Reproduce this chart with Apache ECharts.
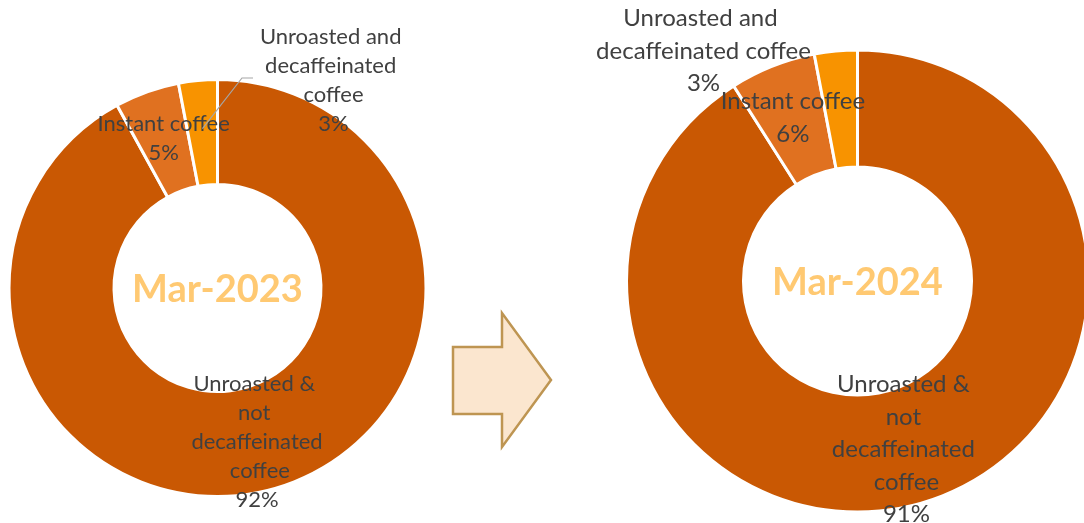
<!DOCTYPE html>
<html>
<head>
<meta charset="utf-8">
<script src="https://cdn.jsdelivr.net/npm/echarts@6/dist/echarts.min.js"></script>
<style>
  html, body { margin: 0; padding: 0; background: #ffffff; }
  #chart { width: 1084px; height: 523px; }
</style>
</head>
<body>
<div id="chart"></div>
<script>
// Coffee product mix (share of volume, %)
const categories = [
  'Unroasted & not decaffeinated coffee',
  'Instant coffee',
  'Unroasted and decaffeinated coffee'
];
const share2023 = [92, 5, 3];
const share2024 = [91, 6, 3];
const periods = ['Mar-2023', 'Mar-2024'];

const sliceColors = ['#C95803', '#E07120', '#F89300'];
const FONT = 'Lato, "Open Sans", sans-serif';
const GAP = 3; // white separator between slices

// Ring geometry and label styling for each donut
// wraps: text box width per slice label (controls line breaking)
const rings = [
  { values: share2023, center: [217.5, 288], inner: 105, outer: 207,
    fontSize: 22, lineHeight: 29, wraps: [135, 200, 150],
    smallLabel: { dx: 116, dy: -208 }, leader: true },
  { values: share2024, center: [857.5, 281], inner: 115.5, outer: 229.5,
    fontSize: 24, lineHeight: 32.5, wraps: [168, 220, 240],
    smallLabel: { dx: -154, dy: -230 }, leader: false }
];

const chart = echarts.init(document.getElementById('chart'), null, { renderer: 'canvas' });

function midAngle(values, idx) {
  const total = values.reduce((a, b) => a + b, 0);
  let acc = 0;
  for (let i = 0; i < idx; i++) acc += values[i];
  return ((acc + values[idx] / 2) / total) * Math.PI * 2; // clockwise from 12 o'clock
}

const series = rings.map((ring) => ({
  type: 'pie',
  center: ring.center,
  radius: [ring.inner - GAP / 2, ring.outer + GAP / 2],
  startAngle: 90,
  clockwise: true,
  avoidLabelOverlap: false,
  silent: true,
  itemStyle: { borderColor: '#ffffff', borderWidth: GAP },
  label: {
    show: true,
    position: 'inside',
    formatter: '{b}\n{c}%',
    color: '#404040',
    fontFamily: FONT,
    fontSize: ring.fontSize,
    lineHeight: ring.lineHeight,
    align: 'center',
    overflow: 'break'
  },
  labelLine: { show: false },
  data: categories.map((name, i) => {
    const item = {
      name: name,
      value: ring.values[i],
      itemStyle: { color: sliceColors[i] },
      label: { width: ring.wraps[i], overflow: 'break', align: 'center' }
    };
    if (i === 2) {
      item.label.position = 'outside';
      item.labelLine = { show: false };
    }
    return item;
  }),
  labelLayout: function (params) {
    if (params.dataIndex !== 2) return {};
    const [cx, cy] = ring.center;
    return {
      x: cx + ring.smallLabel.dx,
      y: cy + ring.smallLabel.dy,
      align: 'center',
      verticalAlign: 'middle'
    };
  }
}));

// Leader line from the thin slice to its label (left donut only)
const leaders = rings.filter((ring) => ring.leader).map((ring) => {
  const [cx, cy] = ring.center;
  const a = midAngle(ring.values, 2);
  const r = (ring.inner + ring.outer) / 2 + 4;
  return {
    type: 'polyline',
    z: 100,
    shape: {
      points: [
        [cx + Math.sin(a) * r, cy - Math.cos(a) * r],
        [cx + 24.5, cy - 210],
        [cx + 35.5, cy - 210]
      ]
    },
    style: { stroke: '#A6A6A6', lineWidth: 1.2, fill: null },
    silent: true
  };
});

// Period captions in the donut holes
const captions = rings.map((ring, i) => ({
  type: 'text',
  x: ring.center[0],
  y: ring.center[1] + 2,
  style: {
    text: periods[i],
    fill: '#FFC972',
    font: 'bold 38px ' + FONT,
    textAlign: 'center',
    textVerticalAlign: 'middle'
  },
  silent: true
}));

// Block arrow between the two periods
const arrow = {
  type: 'polygon',
  shape: {
    points: [[453, 347], [502, 347], [502, 313], [551, 380], [502, 447], [502, 414], [453, 414]]
  },
  style: { fill: '#FBE6CF', stroke: '#BE9552', lineWidth: 2.5 },
  silent: true
};

chart.setOption({
  animation: false,
  backgroundColor: '#ffffff',
  series: series,
  graphic: { z: 100, elements: [arrow].concat(captions, leaders) }
});
</script>
</body>
</html>
